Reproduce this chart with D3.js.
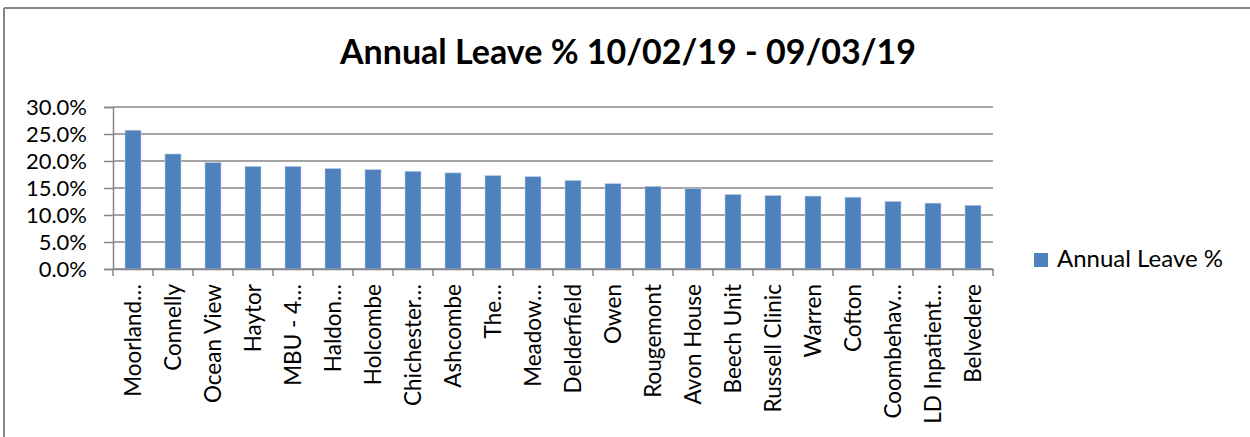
<!DOCTYPE html>
<html lang="en">
<head>
    <meta charset="UTF-8">
    <title>Annual Leave %</title>
    <script src="https://d3js.org/d3.v7.min.js"></script>
    <style>
        * { margin: 0; padding: 0; }
        body { background: #fff; }
        text { font-family: Lato, "Open Sans", sans-serif; fill: #000; }
    </style>
</head>
<body>
    <script>
        var width = 1250;
        var height = 437;

        // data
        var units = ['Moorland…', 'Connelly', 'Ocean View', 'Haytor', 'MBU - 4…', 'Haldon…', 'Holcombe',
            'Chichester…', 'Ashcombe', 'The…', 'Meadow…', 'Delderfield', 'Owen', 'Rougemont', 'Avon House',
            'Beech Unit', 'Russell Clinic', 'Warren', 'Cofton', 'Coombehav…', 'LD Inpatient…', 'Belvedere'];
        var leave = [25.7, 21.3, 19.7, 19.0, 19.0, 18.6, 18.4, 18.1, 17.8, 17.3, 17.1, 16.4, 15.8, 15.3, 14.9,
            13.8, 13.6, 13.5, 13.3, 12.5, 12.2, 11.8];
        var yTicks = [0, 5, 10, 15, 20, 25, 30];
        var seriesName = 'Annual Leave %';
        var title = 'Annual Leave % 10/02/19 - 09/03/19';

        var plot = { left: 113, right: 993, top: 107, bottom: 269 };
        var font = 'Lato, "Open Sans", sans-serif';

        var svg = d3.select('body')
            .append('svg')
            .attr('width', width)
            .attr('height', height);

        // chart frame (only top and left edges visible)
        svg.append('line')
            .attr('x1', 4).attr('y1', 8).attr('x2', width).attr('y2', 8)
            .attr('stroke', '#868686').attr('stroke-width', 2);
        svg.append('line')
            .attr('x1', 4).attr('y1', 8).attr('x2', 4).attr('y2', height)
            .attr('stroke', '#868686').attr('stroke-width', 2);

        var x = d3.scaleBand()
            .domain(units)
            .range([plot.left, plot.right])
            .paddingInner(0.6)
            .paddingOuter(0.3);

        var y = d3.scaleLinear()
            .domain([0, 30])
            .range([plot.bottom, plot.top]);

        // gridlines
        svg.append('g')
            .selectAll('line')
            .data(yTicks)
            .enter()
            .append('line')
            .attr('x1', plot.left)
            .attr('x2', plot.right)
            .attr('y1', function (d) { return y(d); })
            .attr('y2', function (d) { return y(d); })
            .attr('stroke', '#868686')
            .attr('stroke-width', 1.5);

        // bars
        svg.append('g')
            .selectAll('rect')
            .data(leave)
            .enter()
            .append('rect')
            .attr('x', function (d, i) { return x(units[i]); })
            .attr('y', function (d) { return y(d); })
            .attr('width', x.bandwidth())
            .attr('height', function (d) { return y(0) - y(d); })
            .attr('fill', '#4F81BD')
            .attr('stroke', '#b9cde5')
            .attr('stroke-width', 0.6);

        // y axis
        var yAxis = d3.axisLeft(y)
            .tickValues(yTicks)
            .tickSize(9)
            .tickPadding(17)
            .tickFormat(function (d) { return d.toFixed(1) + '%'; });

        var gy = svg.append('g')
            .attr('transform', 'translate(' + plot.left + ',0)')
            .call(yAxis);
        gy.select('.domain').attr('stroke', '#868686').attr('stroke-width', 1.5);
        gy.selectAll('.tick line').attr('stroke', '#868686').attr('stroke-width', 1.5);
        gy.selectAll('.tick text')
            .style('font-family', font)
            .style('font-size', '22px')
            .attr('fill', '#000');

        // x axis: ticks on band edges
        var xAxis = d3.axisBottom(x).tickSize(0).tickPadding(0);
        var gx = svg.append('g')
            .attr('transform', 'translate(0,' + plot.bottom + ')')
            .call(xAxis);
        gx.select('.domain').attr('stroke', '#868686').attr('stroke-width', 1.5);
        gx.selectAll('.tick text')
            .attr('transform', 'rotate(-90)')
            .attr('x', -15)
            .attr('y', 0)
            .attr('dy', '0.35em')
            .style('text-anchor', 'end')
            .style('font-family', font)
            .style('font-size', '22.5px')
            .attr('fill', '#000');

        svg.append('g')
            .selectAll('line')
            .data(d3.range(units.length + 1))
            .enter()
            .append('line')
            .attr('x1', function (d) { return plot.left + d * x.step(); })
            .attr('x2', function (d) { return plot.left + d * x.step(); })
            .attr('y1', plot.bottom)
            .attr('y2', plot.bottom + 7)
            .attr('stroke', '#868686')
            .attr('stroke-width', 1.5);

        // title
        svg.append('text')
            .attr('x', 628)
            .attr('y', 64)
            .attr('text-anchor', 'middle')
            .style('font-size', '34px')
            .style('font-weight', 'bold')
            .text(title);

        // legend
        var legend = svg.append('g').attr('transform', 'translate(1034,253)');
        legend.append('rect')
            .attr('width', 14).attr('height', 14)
            .attr('fill', '#4F81BD');
        legend.append('text')
            .attr('x', 23)
            .attr('y', 14)
            .style('font-size', '24px')
            .text(seriesName);
    </script>
</body>
</html>
